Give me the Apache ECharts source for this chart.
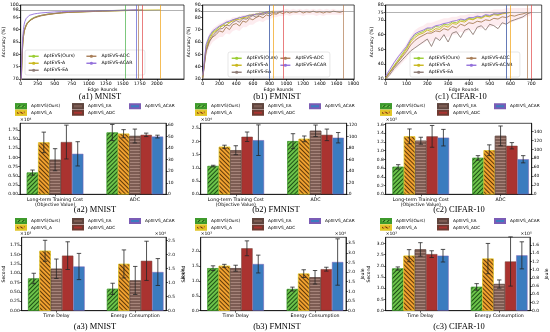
<!DOCTYPE html>
<html><head><meta charset="utf-8">
<script src="https://cdn.jsdelivr.net/npm/echarts@6.0.0/dist/echarts.min.js"></script>
<style>html,body{margin:0;padding:0;background:#fff;}#chart{width:550px;height:332px;}</style>
</head><body><div id="chart"></div>
<script>
// ---------------- data ----------------
const lineNames = ['AptEVS(Ours)','AptEVS-A','AptEVS-EA','AptEVS-ADC','AptEVS-ACAR'];
const barLabels = ['AptEVS(Ours)','AptEVS_A','AptEVS_EA','AptEVS_ADC','AptEVS_ACAR'];
const barIds = ['barOurs','barA','barEA','barADC','barACAR'];

// (a1) MNIST accuracy curves
const mnistRounds = [0,10,20,30,40,50,60,80,100,125,150,200,250,300,400,500,600,700,800,900,1000,1100,1200,1300,1400,1500,1540,1600,1700,1730,1790,1900,2050];
const mnistOurs = [62,72,80,85,88,89.5,90.5,92,93,93.8,94.3,95,95.5,95.8,96.3,96.6,96.9,97.1,97.2,97.3,97.4,97.5,97.6,97.7,97.8,97.9,98.0];
const mnistA = [60,70,78,84,87,89,90,91.5,92.5,93.3,94,94.8,95.3,95.7,96.2,96.5,96.8,97.0,97.1,97.2,97.3,97.4,97.5,97.6,97.6,97.7,97.7,97.8,97.8,97.85,97.9,97.95,98.0];
const mnistEA = [61,71,79,84.5,87.5,89.2,90.3,91.8,92.8,93.5,94,94.9,95.4,95.8,96.3,96.6,96.9,97.1,97.2,97.3,97.4,97.5,97.6,97.6,97.7,97.8,97.8,97.85,97.9,97.95,98.0];
const mnistADC = [60,70.5,78.5,84,87,89,90.2,91.7,92.7,93.4,93.9,94.7,95.2,95.6,96.1,96.5,96.8,97.0,97.1,97.2,97.3,97.4,97.5,97.6,97.7,97.75,97.8,97.85,97.9,98.0];
const mnistACAR = [63,74,82,87,90,92,93.2,94.5,95.3,95.8,96.1,96.4,96.6,96.8,97.0,97.2,97.3,97.4,97.5,97.55,97.6,97.65,97.7,97.75,97.8,97.85,97.9,97.92,98.0];

// (b1) FMNIST accuracy curves
const fmnistRounds = [0,40,80,120,160,200,240,280,320,360,400,440,480,520,560,600,640,680,720,760,800,840,880,920,960,1000,1040,1080,1120,1160,1200,1240,1280,1320,1360,1400,1440,1480,1520,1560,1600,1640,1680];
const fmnistOurs = [32,56,64,68,70,72.5,73,76,75.5,78,78.5,80,79,81,82,81.5,83,82.5,84,83.5,85];
const fmnistA = [31,54,62,67,69,71,74,73,76,77,78.5,78,80,79.5,81,82.5,82,83.5,83,84.5,84,85];
const fmnistEA = [30,52,60,65,68,70.5,71,74,73,76,77.5,76,79,78.5,80,81.5,80,82.5,82,83.5,83,84,83.5,84.5,85];
const fmnistADC = [31,53,61,64,66,69,68,72,70,74,75,73,77,76,79,78,80,81,79.5,82,81,83,82.5,84,83,84.5,83.5,84.5,84,85,83.5,84.5,84,85,84,84.5,83.5,84.5,84,85,84.5,84,85];
const fmnistACAR = [33,58,65,69,71,73,74.5,76,77,78,79,79.5,80.5,81,81.5,82,82.5,83,83.5,84,85];
const fmnistBandLow = [28,48,56,60,62,64,64,67,66,69,70,69,72,72,74,74,76,77,76,78,78,80,80,81,81,82,81,82,82,82,81,82,82,82,81,82,81,82,82,82,82,82,82];
const fmnistBandHigh = [34,60,67,71,73,75,76,78,78,80,80,81,82,82,83,83,84,85,84,85,85,86,86,86,86,87,86,87,86,87,86,87,86,87,86,87,86,87,86,87,86,86,87];

// (c1) CIFAR-10 accuracy curves
const cifarRounds = [0,20,40,60,80,100,120,140,160,180,200,220,240,260,280,300,320,340,360,380,400,420,440,460,480,500,520,540,560,580,600,620,640,660,680,700];
const cifarOurs = [31,35,39,43,47,51,56,59.5,61,62,64,63.5,65.5,65,67,66.5,68.5,68,70,69.5,71,70.5,72,71.5,73,72.5,74,73.5,74.5,75];
const cifarA = [30.5,34.5,38.5,42,46,50,55,58,60,61,63,62,64,63.5,66,65,67.5,67,69,68.5,70.5,70,71.5,71,72.5,72,73.5,73,74,74.5,75];
const cifarEA = [30,33,37,40,43,46,49,51,53,55,57,52,58,56,60,55,61,62,58,63,64,60,65,66,63,67,66,64,68,67,69,70,71,72,74,75];
const cifarADC = [31,34.5,38,41.5,45,48.5,53,56,58,59.5,61,61,62.5,62,64,63,65.5,64.5,67,66,68,67.5,69,68.5,70,69.5,71,70.5,72,71.5,73,72.5,73.5,74,75];
const cifarACAR = [32,36.5,41,45,48.5,52,57,60.5,62,63,64.5,64.5,66,66.5,67.5,68,69,69.5,70.5,70,71.5,71.5,72.5,72,73.5,73,74,74,74.5,75];
const cifarBandLow = [29,32,35,38,41,44,48,51,53,54,56,55,57,57,59,58,60,60,62,61,63,63,64,64,65,65,66,66,67,67,68,69,70,71,72,73];
const cifarBandHigh = [33,37,42,46,50,54,59,63,65,66,68,68,69,70,71,71,72,72,73,73,74,74,75,75,76,76,77,77,77,78,78,78,78,78,78,78];

// tick labels
const mnistRoundTicks = [0,250,500,750,1000,1250,1500,1750,2000];
const fmnistRoundTicks = [0,200,400,600,800,1000,1200,1400,1600,1800];
const cifarRoundTicks = [0,100,200,300,400,500,600,700];
const mnistAccTicks = [70,75,80,85,90,95,98,100];
const fmnistAccTicks = [30,40,50,60,70,80,85,90];
const cifarAccTicks = [30,40,50,60,70,75,80];

// row 2 bars: cost (left axis) and ADC (right axis)
const costCats = ['Long-term Training Cost\n(Objective Value)', 'ADC'];
const mnistCost = [0.59,1.41,0.94,1.42,1.10];      // x1e4
const mnistCostErr = [0.07,0.28,0.30,0.46,0.33];
const mnistAdc = [53.5,52.5,50.5,51.5,50.0];
const mnistAdcErr = [7.0,3.5,6.0,1.5,1.2];
const fmnistCost = [1.07,1.80,1.67,2.18,2.05];     // x1e4
const fmnistCostErr = [0.03,0.06,0.17,0.18,0.58];
const fmnistAdc = [92,96,110,103,98];
const fmnistAdcErr = [13,5,10,10,9];
const cifarCost = [0.63,1.33,1.23,1.33,1.30];      // x1e5
const cifarCostErr = [0.05,0.17,0.08,0.25,0.19];
const cifarAdc = [81,98,130,108,78];
const cifarAdcErr = [5,12,22,7,8];

// row 3 bars: time delay (left) and energy (right)
const delayCats = ['Time Delay', 'Energy Consumption'];
const mnistDelay = [0.86,1.60,1.12,1.47,1.18];     // x1e3
const mnistDelayErr = [0.14,0.28,0.26,0.37,0.35];
const mnistEnergy = [0.78,1.67,1.08,1.78,1.38];    // x1e4
const mnistEnergyErr = [0.20,0.50,0.50,0.70,0.48];
const fmnistDelay = [1.43,1.51,1.43,2.10,1.57];    // x1e3
const fmnistDelayErr = [0.08,0.05,0.10,0.25,0.30];
const fmnistEnergy = [1.12,1.92,1.73,2.15,2.52];   // x1e4
const fmnistEnergyErr = [0.10,0.20,0.35,0.10,1.20];
const cifarDelay = [1.88,2.45,2.73,2.52,2.45];     // x1e3
const cifarDelayErr = [0.07,0.27,0.30,0.15,0.28];
const cifarEnergy = [0.58,1.27,0.65,1.20,1.35];    // x1e5
const cifarEnergyErr = [0.08,0.37,0.10,0.60,0.33];

// ---------------- styles ----------------
const FONT = 'DejaVu Sans';
const lineColors = ['#9acd32','#c9b81e','#8f7d77','#a87e58','#9370db'];
const vColors = ['#45b045','#f0a010','#e04848','#b07a50','#5a5ad0'];
const BW = 11.3;
function hatch(rot, col, gap) {
  return {symbol:'rect', symbolSize:1, dashArrayX:[1,0], dashArrayY:[1, gap], rotation:rot, color:col};
}
const barStyles = [
  {color:'#6cc34a', borderColor:'#3e9a2c', borderWidth:0.5, decal:hatch(-Math.PI/4,'rgba(15,60,10,0.85)',2)},
  {color:'#f0a030', borderColor:'#e2c628', borderWidth:0.5, decal:hatch(Math.PI/4,'rgba(70,40,0,0.85)',2)},
  {color:'#7d5c53', borderColor:'#5f453e', borderWidth:0.5, decal:hatch(0,'rgba(200,165,155,0.55)',2)},
  {color:'#aa3330', borderColor:'#6e3a30', borderWidth:0.5},
  {color:'#3b7cbf', borderColor:'#7b5cb5', borderWidth:0.5}
];

const option = {
  animation:false,
  textStyle:{fontFamily:FONT},
  grid:[], xAxis:[], yAxis:[], series:[], legend:[], graphic:[]
};

function axisCommon() {
  return {axisLine:{show:true, onZero:false, lineStyle:{color:'#000', width:0.7}}, splitLine:{show:false}};
}
const plain = v => String(v);

function bandRender(params, api) {
  const p1 = api.coord([api.value(0), api.value(1)]);
  const p2 = api.coord([api.value(0), api.value(2)]);
  const p3 = api.coord([api.value(3), api.value(5)]);
  const p4 = api.coord([api.value(3), api.value(4)]);
  return {type:'polygon', shape:{points:[p1, p2, p3, p4]}, style:{fill:'rgba(240,130,150,0.15)'}};
}

function addLineChart(c) {
  const gi = option.grid.length;
  option.grid.push({left:c.left, top:c.top, width:c.width, height:c.height, show:true, borderColor:'#000', borderWidth:0.7, backgroundColor:'#fff'});
  const xi = option.xAxis.length, yi = option.yAxis.length;
  option.xAxis.push(Object.assign(axisCommon(), {type:'value', gridIndex:gi, min:0, max:c.xMax,
    axisTick:{show:true, customValues:c.xTicks, length:2, lineStyle:{color:'#000', width:0.6}},
    axisLabel:{customValues:c.xTicks, formatter:plain, fontSize:4.6, color:'#000', margin:2},
    name:'Edge Rounds', nameLocation:'middle', nameGap:8.5, nameTextStyle:{fontSize:4.6, color:'#000'}}));
  option.yAxis.push(Object.assign(axisCommon(), {type:'value', gridIndex:gi, min:c.yMin, max:c.yMax,
    axisTick:{show:true, customValues:c.yTicks, length:2, lineStyle:{color:'#000', width:0.6}},
    axisLabel:{customValues:c.yTicks, formatter:plain, fontSize:4.6, color:'#000', margin:2},
    name:'Accuracy (%)', nameLocation:'middle', nameGap:9.5, nameTextStyle:{fontSize:4.6, color:'#000'}}));
  if (c.bandLow) {
    const r = c.rounds;
    option.series.push({type:'custom', xAxisIndex:xi, yAxisIndex:yi, renderItem:bandRender, clip:true, silent:true, z:1,
      encode:{x:[0,3], y:[1,2,4,5]},
      data:c.bandLow.slice(0, -1).map((lo, i) => [r[i], lo, c.bandHigh[i], r[i+1], c.bandLow[i+1], c.bandHigh[i+1]])});
  }
  c.series.forEach((vals, k) => {
    const data = vals.map((v, i) => [c.rounds[i], v]);
    const endX = c.rounds[vals.length - 1];
    const ml = [{xAxis:endX, lineStyle:{color:vColors[k], width:0.7, type:'solid'}}];
    if (k === 0) ml.push({yAxis:c.target, lineStyle:{color:'#808080', width:0.6, type:'solid'}});
    option.series.push({type:'line', name:lineNames[k], xAxisIndex:xi, yAxisIndex:yi, data:data,
      symbol:'none', showSymbol:false, clip:true, z:3 + (k === 4 ? 1 : 0),
      lineStyle:{color:lineColors[k], width:0.9}, itemStyle:{color:lineColors[k]},
      markLine:{silent:true, symbol:['none','none'], label:{show:false}, data:ml}});
  });
  option.legend.push({data:lineNames, orient:'vertical', left:c.legLeft, top:c.legTop, height:26,
    itemWidth:10, itemHeight:4, itemGap:1.5, padding:[3.5,3,2,3], selectedMode:false,
    backgroundColor:'rgba(255,255,255,0.85)', borderColor:'#cfcfcf', borderWidth:0.5, borderRadius:2,
    lineStyle:{width:1.4},
    textStyle:{fontSize:4.6, width:c.legTextW, lineHeight:5.5, color:'#000'}});
}

function errRender(params, api) {
  const x = api.value(0), lo = api.value(1), hi = api.value(2), k = api.value(3);
  const pLo = api.coord([x, lo]), pHi = api.coord([x, hi]);
  const cx = pLo[0] + (k - 2) * BW;
  const cap = 2.2;
  const st = {stroke:'#262626', lineWidth:0.8};
  return {type:'group', children:[
    {type:'line', shape:{x1:cx, y1:pLo[1], x2:cx, y2:pHi[1]}, style:st},
    {type:'line', shape:{x1:cx-cap, y1:pLo[1], x2:cx+cap, y2:pLo[1]}, style:st},
    {type:'line', shape:{x1:cx-cap, y1:pHi[1], x2:cx+cap, y2:pHi[1]}, style:st}
  ]};
}

function fmt(d) { return v => v.toFixed(d); }

function addBarChart(c) {
  const gi = option.grid.length;
  option.grid.push({left:c.left, top:c.top, width:c.width, height:c.height, show:true, borderColor:'#000', borderWidth:0.7, backgroundColor:'#fff'});
  const xi = option.xAxis.length, yi = option.yAxis.length;
  option.xAxis.push(Object.assign(axisCommon(), {type:'value', gridIndex:gi, min:-0.44, max:1.39,
    axisTick:{show:true, customValues:[0,1], length:2, lineStyle:{color:'#000', width:0.6}},
    axisLabel:{customValues:[0,1], formatter:v => c.cats[Math.round(v)], fontSize:4.7, color:'#000', margin:2.5, lineHeight:5}}));
  option.xAxis.push({type:'value', gridIndex:gi, min:-0.44, max:1.39, show:false, axisLine:{onZero:false}});
  option.yAxis.push(Object.assign(axisCommon(), {type:'value', gridIndex:gi, min:0, max:c.lMax, position:'left',
    axisTick:{show:true, customValues:c.lTicks, length:2, lineStyle:{color:'#000', width:0.6}},
    axisLabel:{customValues:c.lTicks, formatter:fmt(c.lDec), fontSize:4.4, color:'#000', margin:2},
    name:c.lName || '', nameLocation:'middle', nameGap:14, nameTextStyle:{fontSize:4.6, color:'#000'}}));
  option.yAxis.push(Object.assign(axisCommon(), {type:'value', gridIndex:gi, min:0, max:c.rMax, position:'right',
    axisTick:{show:true, customValues:c.rTicks, length:2, lineStyle:{color:'#000', width:0.6}},
    axisLabel:{customValues:c.rTicks, formatter:fmt(c.rDec), fontSize:4.4, color:'#000', margin:2},
    name:c.rName || '', nameLocation:'middle', nameGap:14, nameRotate:90, nameTextStyle:{fontSize:4.6, color:'#000'}}));
  barIds.forEach((id, k) => {
    option.series.push({type:'bar', name:id, xAxisIndex:xi, yAxisIndex:yi, data:[[0, c.lVals[k]]],
      barWidth:BW, barGap:'0%', itemStyle:barStyles[k], z:2});
  });
  barIds.forEach((id, k) => {
    option.series.push({type:'bar', name:id, xAxisIndex:xi+1, yAxisIndex:yi+1, data:[[1, c.rVals[k]]],
      barWidth:BW, barGap:'0%', itemStyle:barStyles[k], z:2});
  });
  option.series.push({type:'custom', xAxisIndex:xi, yAxisIndex:yi, renderItem:errRender, z:6, silent:true,
    encode:{x:0, y:[1,2]},
    data:c.lVals.map((v, k) => [0, v - c.lErr[k], v + c.lErr[k], k])});
  option.series.push({type:'custom', xAxisIndex:xi+1, yAxisIndex:yi+1, renderItem:errRender, z:6, silent:true,
    encode:{x:0, y:[1,2]},
    data:c.rVals.map((v, k) => [1, v - c.rErr[k], v + c.rErr[k], k])});
  option.graphic.push({type:'text', x:c.left, y:c.top - 3.5, style:{text:c.lExp, font:'4.5px ' + FONT, fill:'#000', textAlign:'left', textVerticalAlign:'middle'}});
  if (c.rExp) option.graphic.push({type:'text', x:c.left + c.width, y:c.top - 3.5, style:{text:c.rExp, font:'4.5px ' + FONT, fill:'#000', textAlign:'right', textVerticalAlign:'middle'}});
}

function addBarLegends(left, top) {
  const common = {orient:'horizontal', itemWidth:10, itemHeight:4, itemGap:3, padding:0, icon:'rect', selectedMode:false,
    formatter:n => barLabels[barIds.indexOf(n)], textStyle:{fontSize:4.3, width:38, lineHeight:5, color:'#000'}};
  option.legend.push(Object.assign({data:['barOurs','barEA','barACAR'], left:left, top:top}, common));
  option.legend.push(Object.assign({data:['barA','barADC'], left:left, top:top + 6.5}, common));
}

function addTitle(text, x, y) {
  option.graphic.push({type:'text', x:x, y:y, style:{text:text, font:'8.5px "Liberation Serif"', fill:'#000', textAlign:'center', textVerticalAlign:'middle'}});
}

// ---------------- row 1 ----------------
addLineChart({left:20.7, top:5, width:163.3, height:74, xMax:2400, xTicks:mnistRoundTicks, yMin:70, yMax:100, yTicks:mnistAccTicks, target:98,
  rounds:mnistRounds, series:[mnistOurs, mnistA, mnistEA, mnistADC, mnistACAR], legLeft:25, legTop:50, legTextW:40.5});
addLineChart({left:202.7, top:5, width:151.5, height:74, xMax:1810, xTicks:fmnistRoundTicks, yMin:30, yMax:90, yTicks:fmnistAccTicks, target:85,
  rounds:fmnistRounds, series:[fmnistOurs, fmnistA, fmnistEA, fmnistADC, fmnistACAR], bandLow:fmnistBandLow, bandHigh:fmnistBandHigh,
  legLeft:228, legTop:52, legTextW:31.5});
addLineChart({left:385.7, top:5, width:156, height:74, xMax:750, xTicks:cifarRoundTicks, yMin:30, yMax:80, yTicks:cifarAccTicks, target:75,
  rounds:cifarRounds, series:[cifarOurs, cifarA, cifarEA, cifarADC, cifarACAR], bandLow:cifarBandLow, bandHigh:cifarBandHigh,
  legLeft:410, legTop:52, legTextW:35.5});
addTitle('(a1) MNIST', 100, 96.5);
addTitle('(b1) FMNIST', 277, 96.5);
addTitle('(c1) CIFAR-10', 461, 96.5);

// ---------------- row 2 ----------------
addBarLegends(15, 103.3);
addBarLegends(195, 103.3);
addBarLegends(380, 103.3);
addBarChart({left:20, top:123.3, width:146, height:71, cats:costCats,
  lMax:1.93, lTicks:[0,0.25,0.5,0.75,1,1.25,1.5,1.75], lDec:2, lVals:mnistCost, lErr:mnistCostErr, lExp:'×10⁴',
  rMax:61.5, rTicks:[0,10,20,30,40,50,60], rDec:0, rVals:mnistAdc, rErr:mnistAdcErr});
addBarChart({left:200.7, top:123.3, width:146, height:71, cats:costCats,
  lMax:2.69, lTicks:[0,0.5,1,1.5,2,2.5], lDec:1, lVals:fmnistCost, lErr:fmnistCostErr, lExp:'×10⁴',
  rMax:123, rTicks:[0,20,40,60,80,100,120], rDec:0, rVals:fmnistAdc, rErr:fmnistAdcErr});
addBarChart({left:385.7, top:123.3, width:146, height:71, cats:costCats,
  lMax:1.63, lTicks:[0,0.2,0.4,0.6,0.8,1,1.2,1.4,1.6], lDec:1, lVals:cifarCost, lErr:cifarCostErr, lExp:'×10⁵',
  rMax:158, rTicks:[0,20,40,60,80,100,120,140], rDec:0, rVals:cifarAdc, rErr:cifarAdcErr});
addTitle('(a2) MNIST', 95, 209.5);
addTitle('(b2) FMNIST', 276, 209.5);
addTitle('(c2) CIFAR-10', 459, 209.5);

// ---------------- row 3 ----------------
addBarLegends(15, 218);
addBarLegends(195, 218);
addBarLegends(380, 218);
addBarChart({left:20, top:237.3, width:146, height:73.4, cats:delayCats, lName:'Second', rName:'Joule',
  lMax:1.96, lTicks:[0,0.25,0.5,0.75,1,1.25,1.5,1.75], lDec:2, lVals:mnistDelay, lErr:mnistDelayErr, lExp:'×10³',
  rMax:2.62, rTicks:[0,0.5,1,1.5,2,2.5], rDec:1, rVals:mnistEnergy, rErr:mnistEnergyErr, rExp:'×10⁴'});
addBarChart({left:200.7, top:237.3, width:145.3, height:73.4, cats:delayCats, lName:'Second', rName:'Joule',
  lMax:2.47, lTicks:[0,0.5,1,1.5,2], lDec:1, lVals:fmnistDelay, lErr:fmnistDelayErr, lExp:'×10³',
  rMax:3.8, rTicks:[0,0.5,1,1.5,2,2.5,3,3.5], rDec:1, rVals:fmnistEnergy, rErr:fmnistEnergyErr, rExp:'×10⁴'});
addBarChart({left:385.7, top:237.3, width:146, height:73.4, cats:delayCats, lName:'Second', rName:'Joule',
  lMax:3.27, lTicks:[0,0.5,1,1.5,2,2.5,3], lDec:1, lVals:cifarDelay, lErr:cifarDelayErr, lExp:'×10³',
  rMax:1.79, rTicks:[0,0.2,0.4,0.6,0.8,1,1.2,1.4,1.6], rDec:1, rVals:cifarEnergy, rErr:cifarEnergyErr, rExp:'×10⁵'});
addTitle('(a3) MNIST', 95, 327);
addTitle('(b3) FMNIST', 277, 327);
addTitle('(c3) CIFAR-10', 459, 327);

const chart = echarts.init(document.getElementById('chart'), null, {renderer:'canvas'});
chart.setOption(option);
</script></body></html>
